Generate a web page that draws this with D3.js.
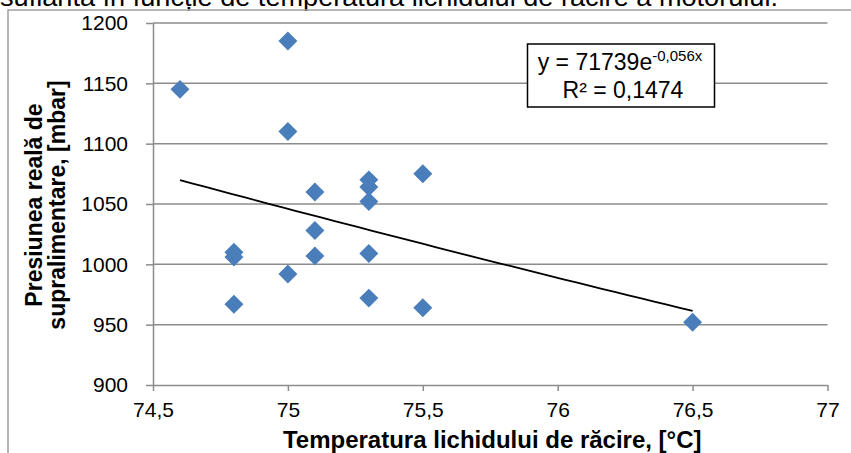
<!DOCTYPE html>
<html>
<head>
<meta charset="utf-8">
<script src="https://cdn.jsdelivr.net/npm/d3@7"></script>
<style>
  body { margin: 0; background: #fff; }
  svg { display: block; font-family: "Liberation Sans", Arial, sans-serif; }
</style>
</head>
<body>
<div id="chart-area"><svg></svg></div>
<script>
const temperatures = [74.6, 74.8, 74.8, 74.8, 75.0, 75.0, 75.0, 75.1, 75.1, 75.1, 75.3, 75.3, 75.3, 75.3, 75.3, 75.5, 75.5, 76.5];
const pressures = [1145, 1010, 1006, 967, 1185, 1110, 992, 1060, 1028, 1007, 1070, 1064, 1052, 1009, 972, 1075, 964, 952];
const xTicks = [74.5, 75, 75.5, 76, 76.5, 77];
const yTicks = [900, 950, 1000, 1050, 1100, 1150, 1200];
const equationText = ["y = 71739e", "-0,056x", "R² = 0,1474"];

const chartSize = { width: 851, height: 453 };
const plot = { left: 153, right: 827.5, top: 23, bottom: 385 };

const commaFormat = d => String(d).replace(".", ",");

const drawChart = function() {
  const points = temperatures.map((t, i) => ({ t, p: pressures[i] }));

  const x = d3.scaleLinear().domain([74.5, 77]).range([plot.left, plot.right]);
  const y = d3.scaleLinear().domain([900, 1200]).range([plot.bottom, plot.top]);

  const svg = d3
    .select("#chart-area svg")
    .attr("width", chartSize.width)
    .attr("height", chartSize.height);

  // text of the page above, cut by the crop
  svg.append("text")
    .attr("x", 0)
    .attr("y", 6)
    .attr("font-size", 26)
    .attr("textLength", 778)
    .attr("lengthAdjust", "spacingAndGlyphs")
    .attr("fill", "#000")
    .text("suflantă în funcție de temperatura lichidului de răcire a motorului.");

  // chart area border (right and bottom sides fall outside the crop)
  svg.append("rect")
    .attr("x", 8)
    .attr("y", 10)
    .attr("width", 870)
    .attr("height", 470)
    .attr("fill", "none")
    .attr("stroke", "#a0a0a0")
    .attr("stroke-width", 1.5);

  // horizontal grid
  svg.append("g")
    .selectAll("line")
    .data(yTicks.filter(d => d > 900))
    .enter()
    .append("line")
    .attr("x1", plot.left)
    .attr("x2", plot.right)
    .attr("y1", d => y(d))
    .attr("y2", d => y(d))
    .attr("stroke", "#8c8c8c")
    .attr("stroke-width", 1.5);

  const yAxis = d3.axisLeft(y).tickValues(yTicks).tickFormat(d => String(d))
    .tickSize(7).tickPadding(18).tickSizeOuter(0);
  const xAxis = d3.axisBottom(x).tickValues(xTicks).tickFormat(commaFormat)
    .tickSize(6).tickPadding(11).tickSizeOuter(0);

  svg.append("g")
    .attr("class", "y-axis")
    .attr("transform", `translate(${plot.left}, 0)`)
    .call(yAxis);

  svg.append("g")
    .attr("class", "x-axis")
    .attr("transform", `translate(0, ${plot.bottom})`)
    .call(xAxis);

  svg.selectAll(".y-axis path, .y-axis line, .x-axis path, .x-axis line")
    .attr("stroke", "#8c8c8c")
    .attr("stroke-width", 1.5);
  svg.selectAll(".y-axis text, .x-axis text")
    .attr("font-family", "'Liberation Sans', Arial, sans-serif")
    .attr("font-size", 21)
    .attr("fill", "#000");

  // axis titles
  svg.append("text")
    .attr("x", (plot.left + plot.right) / 2 + 2)
    .attr("y", 448)
    .attr("text-anchor", "middle")
    .attr("font-size", 24)
    .attr("font-weight", "bold")
    .text("Temperatura lichidului de răcire, [°C]");

  const yTitle = svg.append("text")
    .attr("transform", `translate(0, ${(plot.top + plot.bottom) / 2 + 1}) rotate(-90)`)
    .attr("text-anchor", "middle")
    .attr("font-size", 23)
    .attr("font-weight", "bold");
  yTitle.append("tspan").attr("x", 0).attr("y", 41.5).text("Presiunea reală de");
  yTitle.append("tspan").attr("x", 0).attr("y", 65).text("supralimentare, [mbar]");

  // exponential trendline, least squares on ln(p)
  const mx = d3.mean(temperatures);
  const my = d3.mean(pressures, p => Math.log(p));
  const b = d3.sum(points, d => (d.t - mx) * (Math.log(d.p) - my)) /
    d3.sum(points, d => (d.t - mx) ** 2);
  const a = Math.exp(my - b * mx);
  const [tMin, tMax] = d3.extent(temperatures);
  const trend = d3.range(0, 41).map(i => tMin + (tMax - tMin) * i / 40);

  svg.append("path")
    .datum(trend)
    .attr("fill", "none")
    .attr("stroke", "#000")
    .attr("stroke-width", 1.8)
    .attr("d", d3.line().x(t => x(t)).y(t => y(a * Math.exp(b * t))));

  // markers
  const diamond = d3.symbol().type(d3.symbolSquare).size(180);
  svg.append("g")
    .selectAll("path")
    .data(points)
    .enter()
    .append("path")
    .attr("d", diamond)
    .attr("transform", d => `translate(${x(d.t)}, ${y(d.p)}) rotate(45)`)
    .attr("fill", "#4a7ebb");

  // equation box
  const box = svg.append("g");
  box.append("rect")
    .attr("x", 527.5)
    .attr("y", 44)
    .attr("width", 187)
    .attr("height", 63)
    .attr("fill", "#fff")
    .attr("stroke", "#000")
    .attr("stroke-width", 1.5);
  const eq = box.append("text")
    .attr("x", 620)
    .attr("y", 70)
    .attr("text-anchor", "middle")
    .attr("font-size", 23);
  eq.append("tspan").text(equationText[0]);
  eq.append("tspan").attr("dy", -9).attr("font-size", 15).text(equationText[1]);
  box.append("text")
    .attr("x", 623)
    .attr("y", 98)
    .attr("text-anchor", "middle")
    .attr("font-size", 23)
    .text(equationText[2]);
};

window.onload = drawChart;
</script>
</body>
</html>
